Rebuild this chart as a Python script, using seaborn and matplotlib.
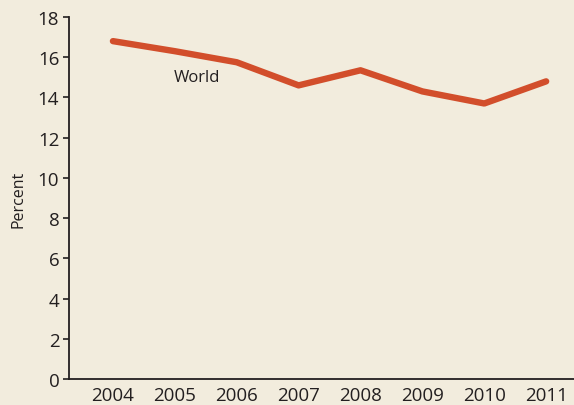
import matplotlib
matplotlib.use("Agg")
import matplotlib.pyplot as plt
import seaborn as sns
import pandas as pd

# values
years = [2004, 2005, 2006, 2007, 2008, 2009, 2010, 2011]
percent = [16.8, 16.3, 15.75, 14.6, 15.35, 14.3, 13.7, 14.8]
yticks = [0, 2, 4, 6, 8, 10, 12, 14, 16, 18]

data = pd.DataFrame({"year": years, "percent": percent})

bg = "#f2ecdd"
line_color = "#d24e2b"
text_color = "#231f20"

sns.set_style("ticks")
plt.rcParams["font.family"] = ["Open Sans", "DejaVu Sans"]

fig = plt.figure(figsize=(5.74, 4.06), dpi=100, facecolor=bg)
ax = fig.add_axes([69 / 574, 26 / 406, 505 / 574, 362 / 406])
ax.set_facecolor(bg)

sns.lineplot(x="year", y="percent", data=data, color=line_color,
             linewidth=4.6, solid_capstyle="round", ax=ax)

ax.text(2005.36, 15.0, "World", fontsize=12, color=text_color,
        ha="center", va="center")

ax.set_xlim(2003.29, 2011.45)
ax.set_ylim(0, 18)
ax.set_xticks(years)
ax.set_yticks(yticks)
ax.set_xlabel("")
ax.set_ylabel("Percent", fontsize=11.5, color=text_color, labelpad=8)

ax.tick_params(axis="x", length=0, labelsize=13.5, colors=text_color, pad=5)
ax.tick_params(axis="y", length=4, width=1.2, labelsize=13.5,
               colors=text_color, pad=3)
for side in ["top", "right"]:
    ax.spines[side].set_visible(False)
for side in ["left", "bottom"]:
    ax.spines[side].set_color(text_color)
    ax.spines[side].set_linewidth(1.3)

plt.savefig("out.png", dpi=100, facecolor=bg)
